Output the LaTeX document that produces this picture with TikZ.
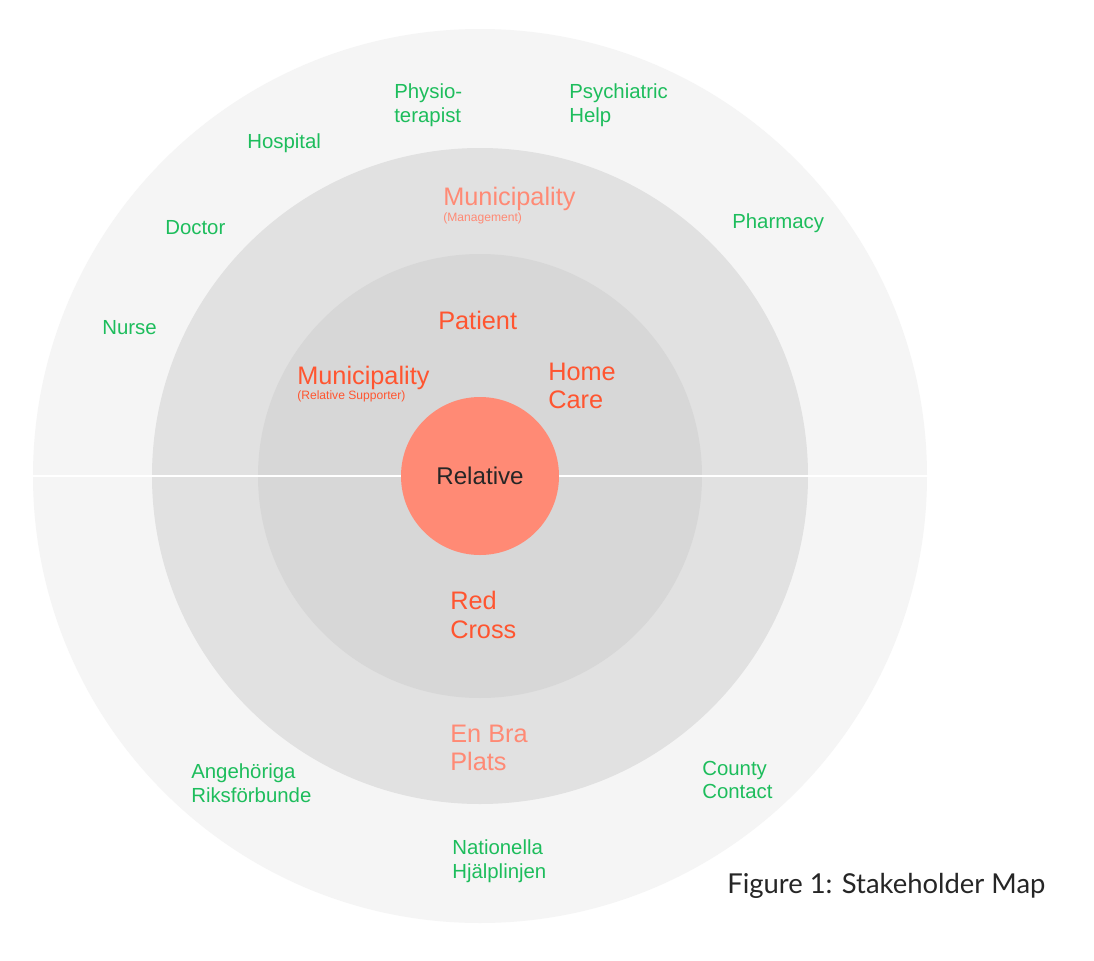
\documentclass[tikz,border=0pt]{standalone}
\usepackage{fontspec}
\setmainfont{Liberation Sans}
\newfontfamily\captionfont{Lato}
\usetikzlibrary{positioning}

\definecolor{ringouter}{HTML}{F5F5F5}
\definecolor{ringmiddle}{HTML}{E1E1E1}
\definecolor{ringinner}{HTML}{D7D7D7}
\definecolor{salmon}{HTML}{FF8A75}
\definecolor{deeporange}{HTML}{FF5530}
\definecolor{stakegreen}{HTML}{1DBD5C}
\definecolor{darktext}{HTML}{262626}

\begin{document}
\begin{tikzpicture}[x=0.025cm,y=-0.025cm]
\tikzset{
  ring/.style={circle,draw=none,inner sep=0pt},
  outerlabel/.style={anchor=west,align=left,inner sep=0pt,text=stakegreen,font=\fontsize{14.5}{17}\selectfont},
  innerlabel/.style={anchor=west,align=left,inner sep=0pt,text=deeporange,font=\fontsize{18}{20.3}\selectfont},
  softlabel/.style={innerlabel,text=salmon},
  sublabel/.style={anchor=west,inner sep=0pt,font=\fontsize{8.6}{10}\selectfont},
  divider/.style={draw=white,line width=1.5pt}
}
\useasboundingbox[fill=white] (0,0) rectangle (1094,961);
% rings
\node[ring,fill=ringouter,minimum size=894*0.025cm] (r_Outer) at (480,476) {};
\node[ring,fill=ringmiddle,minimum size=656*0.025cm] (r_Middle) at (480,476) {};
\node[ring,fill=ringinner,minimum size=444*0.025cm] (r_Inner) at (480,476) {};
\coordinate (c_Left) at (33,476);
\coordinate (c_Right) at (928,476);
\draw[divider] (c_Left) -- (c_Right);
\node[ring,fill=salmon,minimum size=158*0.025cm,text=darktext,font=\fontsize{17.2}{20}\selectfont] (n_Relative) at (480,476) {Relative};
% inner stakeholders
\node[innerlabel] (n_Patient) at (438,320) {Patient};
\node[innerlabel] (n_HomeCare) at (548,386) {Home\\Care};
\node[innerlabel] (n_MunSupport) at (297,378) {Municipality};
\node[sublabel,text=deeporange] (n_MunSupportSub) at (297,396) {(Relative Supporter)};
\node[innerlabel] (n_RedCross) at (450,615) {Red\\Cross};
% middle stakeholders
\node[softlabel] (n_MunMgmt) at (443,199) {Municipality};
\node[sublabel,text=salmon] (n_MunMgmtSub) at (443,218) {(Management)};
\node[softlabel] (n_EnBra) at (450,748) {En Bra\\Plats};
% outer stakeholders
\node[outerlabel] (n_Physio) at (394,105) {Physio-\\terapist};
\node[outerlabel] (n_Psych) at (569,105) {Psychiatric\\Help};
\node[outerlabel] (n_Hospital) at (247,143) {Hospital};
\node[outerlabel] (n_Doctor) at (165,228) {Doctor};
\node[outerlabel] (n_Nurse) at (102,328) {Nurse};
\node[outerlabel] (n_Pharmacy) at (732,223) {Pharmacy};
\node[outerlabel] (n_Angehoriga) at (191,783) {Angehöriga\\Riksförbunde};
\node[outerlabel] (n_Nationella) at (452,861) {Nationella\\Hjälplinjen};
\node[outerlabel] (n_County) at (702,780) {County\\Contact};
% caption
\node[anchor=west,inner sep=0pt,text=darktext,font=\captionfont\fontsize{19.5}{22}\selectfont] (n_Caption) at (727,886) {Figure 1: Stakeholder Map};
\end{tikzpicture}
\end{document}
